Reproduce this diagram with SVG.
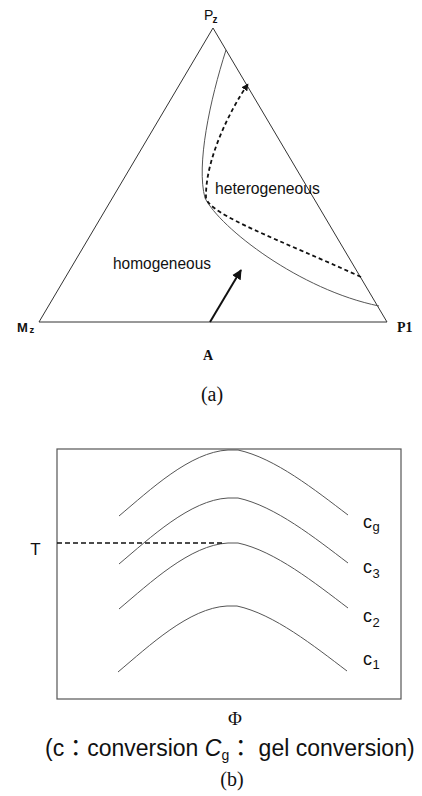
<svg xmlns="http://www.w3.org/2000/svg" width="422" height="796" viewBox="0 0 422 796">
<defs>
<style>
.ln{fill:none;stroke:#333;stroke-width:1}
.cv{fill:none;stroke:#555;stroke-width:1}
.dash{fill:none;stroke:#111;stroke-width:1.8;stroke-dasharray:4 3}
.sans{font-family:"Liberation Sans",Arial,sans-serif;fill:#111}
.serif{font-family:"Liberation Serif","Times New Roman",serif;fill:#111}
.cjk{font-family:"Noto Sans CJK JP","Noto Sans CJK SC",sans-serif}
</style>
<marker id="ah" viewBox="0 0 10 10" refX="9" refY="5" markerWidth="5" markerHeight="5" orient="auto" markerUnits="strokeWidth">
<path d="M0,0 L10,5 L0,10 z" fill="#111"/>
</marker>
<marker id="ah2" viewBox="0 0 10 10" refX="9" refY="5" markerWidth="4" markerHeight="4" orient="auto" markerUnits="strokeWidth">
<path d="M0,0 L10,5 L0,10 z" fill="#111"/>
</marker>
<path id="hump" d="M119,516 C150,490 190,452 228,450 L238,450 C275,458 315,490 348,515"/>
</defs>
<rect width="422" height="796" fill="#fff"/>

<g id="triangle">
<path class="ln" d="M213,28 L39,322 L387,322 Z"/>
</g>
<g id="connectors">
<path class="cv" d="M226,50 C210,100 196,165 205,198 C220,228 300,290 379,306"/>
<path class="dash" d="M361,277 C280,240 210,215 206,198 C205,160 230,110 248,84" marker-end="url(#ah2)"/>
<line x1="210" y1="322" x2="241" y2="270" stroke="#111" stroke-width="2" marker-end="url(#ah)"/>
</g>
<g id="label-Pz"><text class="sans" x="204" y="20" font-size="14">P</text><text class="sans" x="212.5" y="23" font-size="10" font-weight="bold">z</text></g>
<g id="label-Mz"><text class="sans" x="17" y="332" font-size="13" font-weight="bold">M</text><text class="sans" x="29.5" y="333" font-size="9.5" font-weight="bold">z</text></g>
<g id="label-P1"><text class="serif" x="397" y="332" font-size="14" font-weight="bold">P1</text></g>
<g id="label-A"><text class="serif" x="208" y="360" font-size="14" font-weight="bold" text-anchor="middle">A</text></g>
<g id="label-het"><text class="sans" x="215" y="194" font-size="16" textLength="105" lengthAdjust="spacingAndGlyphs">heterogeneous</text></g>
<g id="label-hom"><text class="sans" x="113" y="269" font-size="16" textLength="98" lengthAdjust="spacingAndGlyphs">homogeneous</text></g>
<text class="serif" x="212" y="401" font-size="20" text-anchor="middle">(a)</text>

<g id="plot">
<rect x="57" y="449" width="344" height="250" fill="none" stroke="#555" stroke-width="1.2"/>
<use href="#hump" class="cv"/>
<use href="#hump" class="cv" transform="translate(0,48)"/>
<use href="#hump" class="cv" transform="translate(0,93)"/>
<use href="#hump" class="cv" transform="translate(-1,156)"/>
<line x1="57" y1="543" x2="225" y2="543" stroke="#111" stroke-width="1.5" stroke-dasharray="5 3"/>
</g>
<g id="label-T"><text class="sans" x="35.5" y="555" font-size="17" text-anchor="middle">T</text></g>
<g id="label-cg"><text class="sans" x="363" y="528" font-size="18">c</text><text class="sans" x="372.5" y="531" font-size="13">g</text></g>
<g id="label-c3"><text class="sans" x="363" y="573" font-size="18">c</text><text class="sans" x="372.5" y="578" font-size="13">3</text></g>
<g id="label-c2"><text class="sans" x="363" y="622" font-size="18">c</text><text class="sans" x="372.5" y="627" font-size="13">2</text></g>
<g id="label-c1"><text class="sans" x="363" y="665" font-size="18">c</text><text class="sans" x="372.5" y="669" font-size="13">1</text></g>
<text class="serif" x="235" y="725" font-size="19" text-anchor="middle">Φ</text>
<text class="sans" x="45" y="756" font-size="23">(c<tspan class="cjk">：</tspan>conversion <tspan font-style="italic">C</tspan><tspan font-size="14" dy="4">g</tspan><tspan class="cjk" dy="-4">：</tspan> gel conversion)</text>
<text class="serif" x="232" y="786" font-size="20" text-anchor="middle">(b)</text>
</svg>
